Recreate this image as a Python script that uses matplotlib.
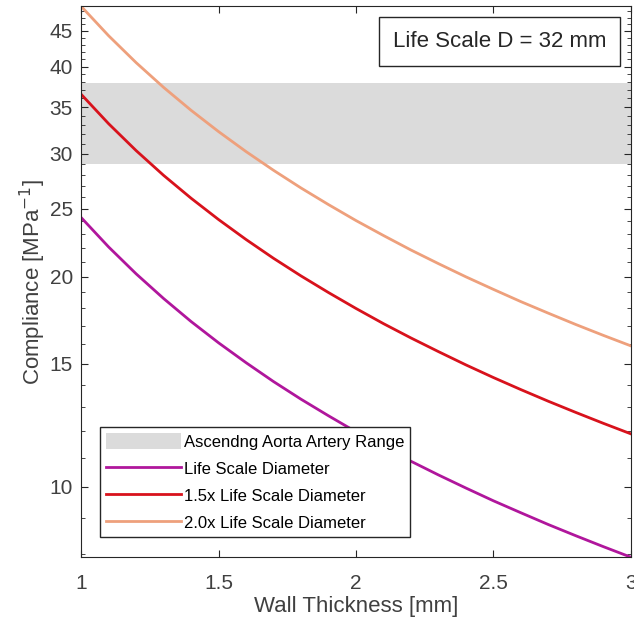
import numpy as np
import matplotlib
matplotlib.use("Agg")
import matplotlib.pyplot as plt
from matplotlib.ticker import FixedLocator, NullFormatter

# wall thickness [mm]
thickness = [1.0, 1.1, 1.2, 1.3, 1.4, 1.5, 1.6, 1.7, 1.8, 1.9, 2.0,
             2.1, 2.2, 2.3, 2.4, 2.5, 2.6, 2.7, 2.8, 2.9, 3.0]

# compliance [1/MPa]
life_scale = [24.30, 22.05, 20.18, 18.60, 17.24, 16.07, 15.05, 14.14, 13.34, 12.63, 11.98,
              11.40, 10.87, 10.39, 9.95, 9.54, 9.17, 8.82, 8.50, 8.20, 7.92]
scale_15x = [36.50, 33.12, 30.31, 27.93, 25.90, 24.14, 22.60, 21.24, 20.04, 18.97, 18.00,
             17.12, 16.33, 15.61, 14.94, 14.33, 13.77, 13.25, 12.77, 12.32, 11.90]
scale_20x = [48.80, 44.28, 40.52, 37.34, 34.62, 32.27, 30.21, 28.40, 26.79, 25.36, 24.06,
             22.90, 21.83, 20.87, 19.98, 19.17, 18.41, 17.72, 17.07, 16.47, 15.91]

# ascending aorta compliance range
aorta_range = [29.0, 37.9]

xticks = [1, 1.5, 2, 2.5, 3]
yticks = [10, 15, 20, 25, 30, 35, 40, 45]

plt.rcParams['font.family'] = ['Liberation Sans', 'DejaVu Sans']

fig = plt.figure(figsize=(6.34, 6.31), dpi=100)
ax = fig.add_axes([0.128, 0.117, 0.867, 0.873])

ax.axhspan(aorta_range[0], aorta_range[1], color='#dbdbdb', lw=0,
           label='Ascendng Aorta Artery Range', zorder=0)
ax.plot(thickness, life_scale, color='#b0169c', lw=2, label='Life Scale Diameter')
ax.plot(thickness, scale_15x, color='#d8121c', lw=2, label='1.5x Life Scale Diameter')
ax.plot(thickness, scale_20x, color='#eea07c', lw=2, label='2.0x Life Scale Diameter')

ax.set_yscale('log')
ax.set_xlim(1, 3)
ax.set_ylim(min(life_scale), max(scale_20x))

ax.set_xticks(xticks)
ax.set_xticklabels(['1', '1.5', '2', '2.5', '3'])
ax.yaxis.set_major_locator(FixedLocator(yticks))
ax.set_yticklabels([str(t) for t in yticks])
ax.yaxis.set_minor_locator(FixedLocator([v for v in range(8, 49) if v not in yticks]))
ax.yaxis.set_minor_formatter(NullFormatter())

ax.tick_params(which='both', direction='in', top=True, right=True,
               labelsize=15, labelcolor='#404040', color='#262626')
ax.tick_params(axis='y', pad=6)
ax.tick_params(axis='x', pad=12)
ax.tick_params(which='major', length=5)
ax.tick_params(which='minor', length=3)
for s in ax.spines.values():
    s.set_color('#262626')

ax.set_xlabel('Wall Thickness [mm]', fontsize=16, color='#404040', labelpad=2)
ax.set_ylabel('Compliance [MPa$^{-1}$]', fontsize=16, color='#404040', labelpad=1)

ax.text(0.955, 0.955, 'Life Scale D = 32 mm', transform=ax.transAxes,
        ha='right', va='top', fontsize=16, color='#262626',
        bbox=dict(boxstyle='square,pad=0.62', fc='white', ec='#262626', lw=1))

leg = ax.legend(loc='lower left', bbox_to_anchor=(0.034, 0.037), fontsize=12,
                handlelength=4.5, handleheight=1.1, handletextpad=0.2,
                labelspacing=0.62, borderpad=0.35, fancybox=False, framealpha=1,
                edgecolor='#262626', borderaxespad=0)
leg.get_frame().set_linewidth(1)

fig.savefig('out.png', dpi=100)
